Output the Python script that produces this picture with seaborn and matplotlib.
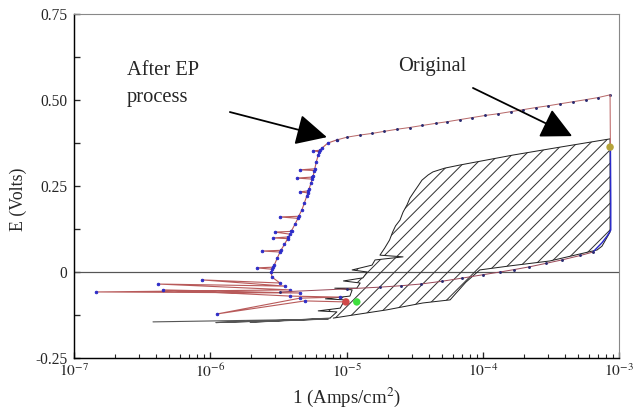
import numpy as np
import matplotlib
matplotlib.use("Agg")
import matplotlib.pyplot as plt
import seaborn as sns
from matplotlib.ticker import FixedLocator, LogLocator, NullFormatter, FuncFormatter

# After EP: forward scan, cathodic spikes + active rise (current A/cm2, potential V)
ep_fwd_i = [9.9e-6, 4.96e-6, 1.12e-6, 4.56e-6, 8.96e-6, 3.85e-6, 4.5e-7, 4.56e-6,
            1.45e-7, 3.85e-6, 4.14e-7, 3.54e-6, 8.7e-7, 3.25e-6, 2.84e-6,
            2.8e-6, 2.85e-6, 2.2e-6, 2.9e-6, 2.95e-6, 3.1e-6, 3.25e-6, 2.4e-6,
            3.3e-6, 3.5e-6, 3.7e-6, 2.9e-6, 3.75e-6, 3.85e-6, 2.99e-6, 3.9e-6,
            3.95e-6, 4.2e-6, 4.4e-6, 3.25e-6, 4.45e-6, 4.7e-6, 4.9e-6, 5.1e-6,
            5.2e-6, 4.56e-6, 5.25e-6, 5.3e-6, 5.5e-6, 5.6e-6, 4.33e-6, 5.62e-6,
            5.7e-6, 5.8e-6, 4.56e-6, 5.85e-6, 6.0e-6, 6.2e-6, 6.3e-6, 5.68e-6,
            6.4e-6, 6.6e-6, 7.3e-6, 8.5e-6]
ep_fwd_e = [-0.087, -0.084, -0.122, -0.076, -0.073, -0.070, -0.052, -0.061,
            -0.058, -0.052, -0.035, -0.041, -0.023, -0.032, -0.015,
            0.0, 0.008, 0.012, 0.014, 0.020, 0.040, 0.058, 0.061,
            0.063, 0.080, 0.097, 0.099, 0.102, 0.110, 0.116, 0.118,
            0.120, 0.140, 0.156, 0.160, 0.162, 0.180, 0.200, 0.220,
            0.230, 0.233, 0.236, 0.240, 0.260, 0.270, 0.273, 0.276,
            0.280, 0.295, 0.297, 0.300, 0.320, 0.340, 0.350, 0.352,
            0.354, 0.360, 0.375, 0.384]
# After EP: passive branch
ep_pas_i = [8.5e-6, 1.01e-5, 1.25e-5, 1.55e-5, 1.9e-5, 2.35e-5, 2.9e-5, 3.6e-5,
            4.5e-5, 5.5e-5, 6.8e-5, 8.4e-5, 1.04e-4, 1.29e-4, 1.6e-4, 1.98e-4,
            2.45e-4, 3.0e-4, 3.7e-4, 4.6e-4, 5.7e-4, 7.0e-4, 8.6e-4]
ep_pas_e = [0.384, 0.392, 0.398, 0.403, 0.409, 0.415, 0.420, 0.426,
            0.432, 0.437, 0.443, 0.449, 0.455, 0.460, 0.466, 0.472,
            0.478, 0.483, 0.489, 0.495, 0.501, 0.507, 0.515]

# After EP: reverse scan
ep_top_i = [8.6e-4, 8.65e-4]
ep_top_e = [0.515, 0.360]
ep_drop_i = [8.65e-4, 8.7e-4, 8.7e-4, 8.2e-4, 7.5e-4, 6.44e-4]
ep_drop_e = [0.360, 0.200, 0.122, 0.105, 0.085, 0.058]
ep_rev_i = [6.44e-4, 5.2e-4, 3.8e-4, 2.9e-4, 2.2e-4, 1.7e-4, 1.34e-4, 1.0e-4,
            7.0e-5, 5.0e-5, 3.5e-5, 2.5e-5, 1.76e-5, 1.01e-5, 3.25e-6]
ep_rev_e = [0.058, 0.048, 0.035, 0.025, 0.015, 0.007, 0.0, -0.008,
            -0.018, -0.027, -0.035, -0.040, -0.044, -0.049, -0.058]

# Original: forward scan
orig_start_i = [3.8e-7, 7.2e-6, 1.1e-6, 7.4e-6, 1.96e-6, 7.57e-6]
orig_start_e = [-0.145, -0.137, -0.147, -0.136, -0.146, -0.134]
orig_fwd_i = [7.57e-6, 8.5e-6, 6.2e-6, 9.0e-6, 9.7e-6, 7.0e-6, 1.06e-5, 1.10e-5,
              8.2e-6, 1.19e-5, 1.26e-5, 9.5e-6, 1.32e-5, 1.42e-5, 1.1e-5, 1.54e-5,
              1.62e-5, 2.6e-5, 1.76e-5, 1.91e-5, 2.07e-5, 2.18e-5, 2.29e-5, 2.47e-5,
              2.6e-5, 2.78e-5, 2.92e-5, 3.13e-5, 3.35e-5, 3.58e-5, 3.97e-5, 4.31e-5,
              5.27e-5, 6.8e-5, 1.67e-4, 3.69e-4, 8.6e-4]
orig_fwd_e = [-0.134, -0.116, -0.113, -0.105, -0.081, -0.078, -0.070, -0.052,
              -0.047, -0.047, -0.032, -0.026, -0.017, 0.0, 0.006, 0.020,
              0.035, 0.044, 0.049, 0.070, 0.093, 0.116, 0.134, 0.151,
              0.174, 0.195, 0.215, 0.233, 0.250, 0.267, 0.282, 0.291,
              0.302, 0.311, 0.340, 0.363, 0.387]
# Original: reverse scan
orig_rev_i = [8.6e-4, 8.6e-4, 7.5e-4, 6.9e-4, 3.1e-4, 1.6e-4, 9.5e-5, 7.5e-5,
              5.76e-5, 3.64e-5, 1.98e-5, 1.12e-5, 8.0e-6]
orig_rev_e = [0.387, 0.116, 0.075, 0.064, 0.032, 0.018, 0.006, -0.030,
              -0.081, -0.090, -0.110, -0.125, -0.134]

# marked points
dot_i = [8.6e-4, 1.19e-5, 9.9e-6]
dot_e = [0.363, -0.087, -0.087]
dot_c = ["#b5a33a", "#3ee03e", "#d04848"]

sns.set_style("ticks")
plt.rcParams["font.family"] = ["Liberation Serif", "DejaVu Serif"]
plt.rcParams["mathtext.fontset"] = "stix"
plt.rcParams["axes.unicode_minus"] = False
plt.rcParams["hatch.linewidth"] = 0.9

fig = plt.figure(figsize=(639 / 80, 412 / 80), dpi=80)
ax = fig.add_axes([74 / 639, 1 - 358 / 412, 545 / 639, 344 / 412])

ax.set_xscale("log")
ax.set_xlim(1e-7, 1e-3)
ax.set_ylim(-0.25, 0.75)

ax.axhline(0, color="#555555", lw=1.1, zorder=1)

# hatched hysteresis loop of the original sample
loop_i = np.concatenate([orig_fwd_i, orig_rev_i])
loop_e = np.concatenate([orig_fwd_e, orig_rev_e])
ax.fill(loop_i, loop_e, facecolor="none", edgecolor="#333333", hatch="//", lw=0, zorder=1)

line_kw = dict(sort=False, estimator=None, ax=ax, legend=False)
sns.lineplot(x=orig_start_i, y=orig_start_e, color="#555555", lw=1.0, **line_kw)
sns.lineplot(x=orig_fwd_i, y=orig_fwd_e, color="#222222", lw=0.9, **line_kw)
sns.lineplot(x=orig_rev_i, y=orig_rev_e, color="#222222", lw=0.9, **line_kw)

blue_dots = dict(marker="o", markersize=2.4, markerfacecolor="#2a2ac8", markeredgecolor="#2a2ac8")
dark_dots = dict(marker="o", markersize=1.8, markerfacecolor="#2a2a70", markeredgecolor="#2a2a70")
sns.lineplot(x=ep_fwd_i, y=ep_fwd_e, color="#b85a5a", lw=1.0, **blue_dots, **line_kw)
sns.lineplot(x=ep_pas_i, y=ep_pas_e, color="#b86a6a", lw=0.9, **dark_dots, **line_kw)
sns.lineplot(x=ep_top_i, y=ep_top_e, color="#c07070", lw=1.0, **line_kw)
sns.lineplot(x=ep_drop_i, y=ep_drop_e, color="#2a2ac8", lw=1.3, **line_kw)
sns.lineplot(x=ep_rev_i, y=ep_rev_e, color="#9a4a5a", lw=0.9, **dark_dots, **line_kw)

sns.scatterplot(x=dot_i, y=dot_e, c=dot_c, s=45, edgecolor="none", ax=ax, zorder=5)

# axes styling
for side in ["top", "right"]:
    ax.spines[side].set_color("#888888")
    ax.spines[side].set_linewidth(1.0)
for side in ["bottom", "left"]:
    ax.spines[side].set_color("black")
    ax.spines[side].set_linewidth(1.3)

ax.xaxis.set_major_locator(LogLocator(base=10))
ax.xaxis.set_minor_locator(LogLocator(base=10, subs=np.arange(2, 10)))
ax.xaxis.set_minor_formatter(NullFormatter())
ax.xaxis.set_major_formatter(FuncFormatter(lambda v, p: r"$10^{%d}$" % round(np.log10(v))))
ax.yaxis.set_major_locator(FixedLocator([-0.25, 0, 0.25, 0.5, 0.75]))
ax.yaxis.set_minor_locator(FixedLocator([-0.125, 0.125, 0.375, 0.625]))
ax.yaxis.set_major_formatter(FuncFormatter(lambda v, p: "0" if v == 0 else "%.2f" % v))

ax.tick_params(axis="both", which="both", direction="in", top=False, right=False)
ax.tick_params(axis="both", which="major", length=5.5, width=1.2)
ax.tick_params(axis="y", which="minor", length=5.5, width=1.2)
ax.tick_params(axis="x", which="minor", length=3.6, width=1.0)
ax.tick_params(axis="y", labelsize=14, pad=6)
ax.tick_params(axis="x", labelsize=14, pad=5)

ax.set_xlabel("1 (Amps/cm$^2$)", fontsize=17, labelpad=4)
ax.set_ylabel("E (Volts)", fontsize=16)
ax.yaxis.set_label_coords(-0.087, 0.46)

ax.text(0.097, 0.862, "After EP\nprocess", transform=ax.transAxes, fontsize=18.5,
        va="top", ha="left", linespacing=1.55)
ax.text(0.594, 0.875, "Original", transform=ax.transAxes, fontsize=18.5,
        va="top", ha="left")

arrow_kw = dict(arrowstyle="-|>,head_length=1.2,head_width=0.6", mutation_scale=20,
                lw=1.6, color="black", shrinkA=0, shrinkB=0)
ax.annotate("", xy=(0.464, 0.642), xytext=(0.286, 0.715), xycoords="axes fraction",
            arrowprops=arrow_kw)
ax.annotate("", xy=(0.914, 0.645), xytext=(0.732, 0.785), xycoords="axes fraction",
            arrowprops=arrow_kw)

fig.savefig("out.png", dpi=80)
